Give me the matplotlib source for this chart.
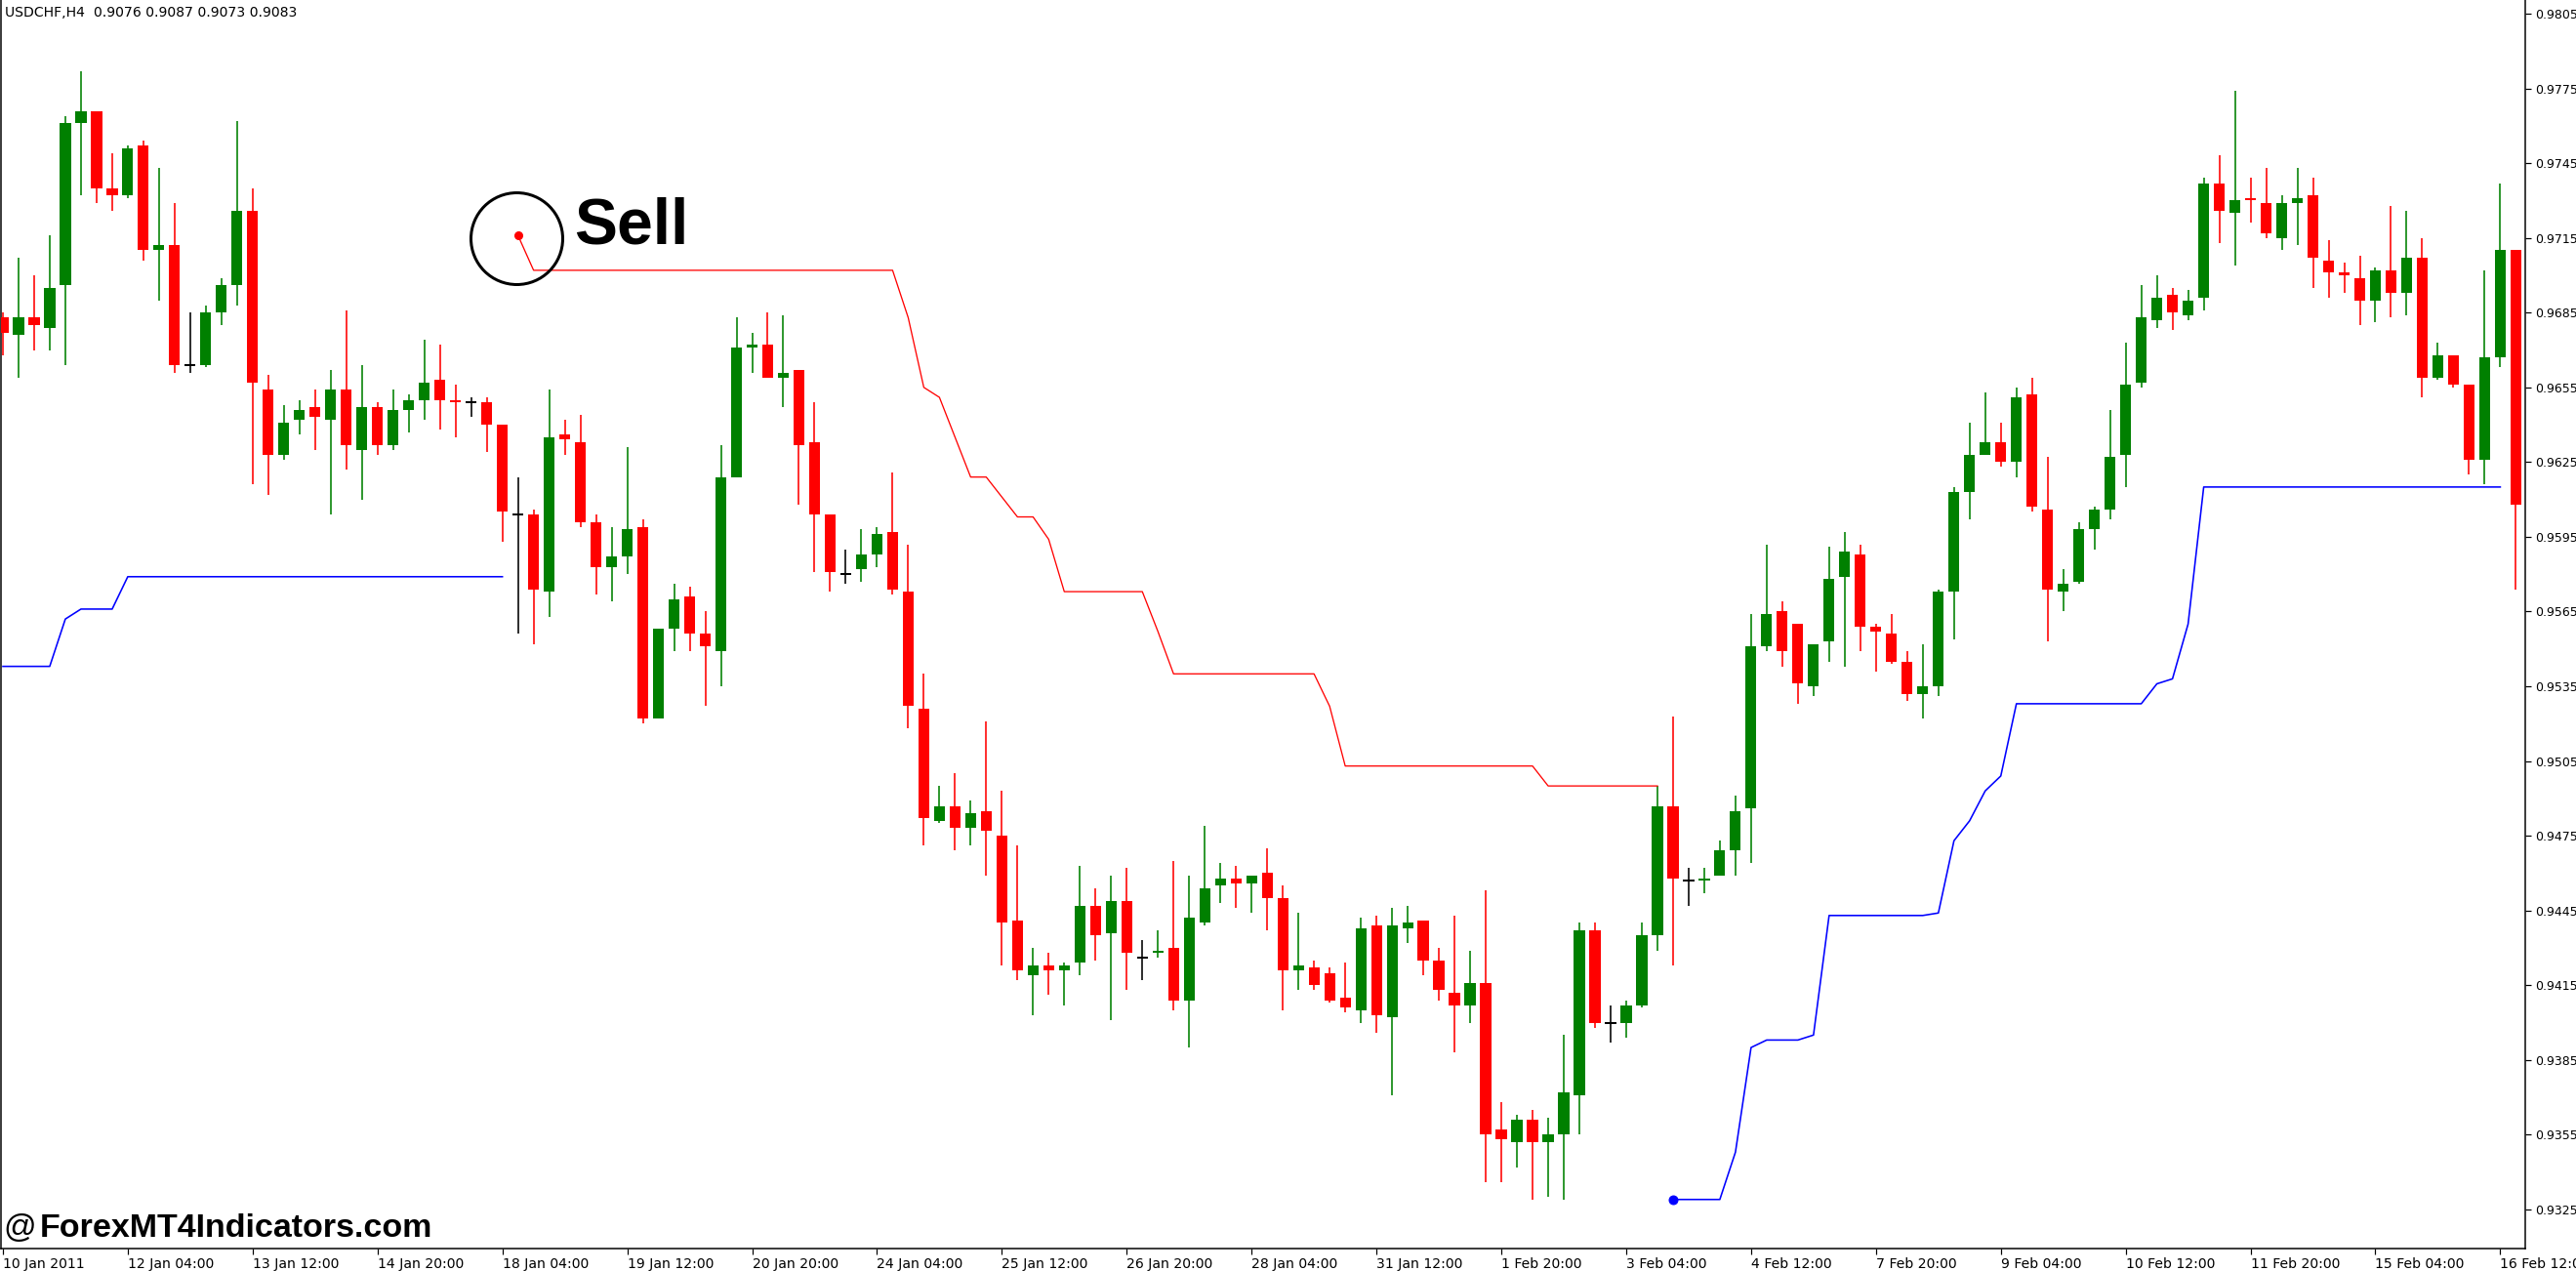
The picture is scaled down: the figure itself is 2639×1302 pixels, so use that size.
import numpy as np
import matplotlib
matplotlib.use("Agg")
import matplotlib.pyplot as plt
from matplotlib import font_manager

# USDCHF H4 candles, prices in 1e-4 units
opens = [9683, 9676, 9683, 9679, 9696, 9761, 9766, 9735, 9732, 9752,
         9710, 9712, 9664, 9664, 9685, 9696, 9726, 9654, 9628, 9642,
         9647, 9642, 9654, 9630, 9647, 9632, 9646, 9650, 9658, 9650,
         9649, 9649, 9640, 9604, 9604, 9573, 9636, 9633, 9601, 9583,
         9587, 9599, 9522, 9558, 9571, 9556, 9549, 9619, 9671, 9672,
         9659, 9662, 9633, 9604, 9580, 9582, 9588, 9597, 9573, 9526,
         9481, 9487, 9478, 9485, 9475, 9441, 9419, 9423, 9421, 9424,
         9447, 9436, 9449, 9426, 9428, 9430, 9409, 9440, 9455, 9458,
         9456, 9460, 9450, 9421, 9422, 9420, 9410, 9405, 9439, 9402,
         9438, 9441, 9425, 9412, 9407, 9416, 9357, 9352, 9361, 9352,
         9355, 9371, 9437, 9400, 9400, 9407, 9435, 9487, 9457, 9457,
         9459, 9469, 9486, 9551, 9565, 9560, 9535, 9553, 9579, 9588,
         9559, 9556, 9545, 9532, 9535, 9573, 9613, 9628, 9633, 9625,
         9652, 9606, 9573, 9577, 9598, 9606, 9628, 9657, 9682, 9692,
         9684, 9691, 9737, 9725, 9731, 9729, 9715, 9729, 9732, 9706,
         9701, 9699, 9690, 9702, 9693, 9707, 9659, 9668, 9656, 9626,
         9667, 9710]
highs = [9685, 9707, 9700, 9716, 9764, 9782, 9766, 9749, 9752, 9754,
         9743, 9729, 9685, 9688, 9699, 9762, 9735, 9660, 9648, 9650,
         9654, 9662, 9686, 9664, 9649, 9654, 9652, 9674, 9672, 9656,
         9651, 9651, 9640, 9619, 9606, 9654, 9642, 9644, 9604, 9599,
         9631, 9602, 9558, 9576, 9575, 9565, 9632, 9683, 9677, 9685,
         9684, 9662, 9649, 9604, 9590, 9598, 9599, 9621, 9592, 9540,
         9495, 9500, 9489, 9521, 9493, 9471, 9430, 9428, 9424, 9463,
         9454, 9459, 9462, 9433, 9437, 9465, 9459, 9479, 9464, 9463,
         9459, 9470, 9455, 9444, 9425, 9422, 9424, 9442, 9443, 9446,
         9447, 9441, 9430, 9443, 9429, 9453, 9368, 9363, 9365, 9362,
         9395, 9440, 9440, 9407, 9409, 9440, 9495, 9523, 9462, 9462,
         9473, 9491, 9564, 9592, 9569, 9560, 9552, 9591, 9597, 9592,
         9560, 9564, 9549, 9552, 9574, 9615, 9641, 9653, 9641, 9655,
         9659, 9627, 9582, 9601, 9607, 9646, 9673, 9696, 9700, 9695,
         9694, 9739, 9748, 9774, 9739, 9743, 9732, 9743, 9739, 9714,
         9705, 9708, 9703, 9728, 9726, 9715, 9673, 9668, 9656, 9702,
         9737, 9710]
lows = [9668, 9659, 9670, 9670, 9664, 9732, 9729, 9726, 9731, 9706,
        9690, 9661, 9661, 9663, 9680, 9688, 9616, 9612, 9626, 9636,
        9630, 9604, 9622, 9610, 9628, 9630, 9637, 9642, 9638, 9635,
        9643, 9629, 9593, 9556, 9552, 9563, 9628, 9599, 9572, 9569,
        9580, 9520, 9522, 9549, 9549, 9527, 9535, 9619, 9661, 9659,
        9647, 9608, 9581, 9573, 9576, 9577, 9583, 9572, 9518, 9471,
        9480, 9469, 9471, 9459, 9423, 9417, 9403, 9411, 9407, 9419,
        9425, 9401, 9413, 9417, 9426, 9405, 9390, 9439, 9448, 9446,
        9444, 9437, 9405, 9413, 9413, 9408, 9404, 9400, 9396, 9371,
        9432, 9419, 9409, 9388, 9400, 9336, 9336, 9342, 9329, 9330,
        9329, 9355, 9398, 9392, 9394, 9406, 9429, 9423, 9447, 9452,
        9459, 9459, 9464, 9549, 9543, 9528, 9531, 9545, 9543, 9549,
        9541, 9544, 9529, 9522, 9531, 9554, 9602, 9628, 9623, 9619,
        9605, 9553, 9565, 9576, 9590, 9602, 9615, 9655, 9679, 9678,
        9682, 9686, 9713, 9704, 9721, 9715, 9710, 9712, 9695, 9691,
        9693, 9680, 9681, 9683, 9684, 9651, 9658, 9655, 9620, 9616,
        9663, 9574]
closes = [9677, 9683, 9680, 9695, 9761, 9766, 9735, 9732, 9751, 9710,
          9712, 9664, 9664, 9685, 9696, 9726, 9657, 9628, 9641, 9646,
          9643, 9654, 9632, 9647, 9632, 9646, 9650, 9657, 9650, 9649,
          9649, 9640, 9605, 9604, 9574, 9635, 9634, 9601, 9583, 9587,
          9598, 9522, 9558, 9570, 9556, 9551, 9619, 9671, 9672, 9659,
          9661, 9632, 9604, 9581, 9580, 9588, 9596, 9574, 9527, 9482,
          9487, 9478, 9484, 9477, 9440, 9421, 9423, 9421, 9423, 9447,
          9435, 9449, 9428, 9426, 9429, 9409, 9442, 9454, 9458, 9456,
          9459, 9450, 9421, 9423, 9415, 9409, 9406, 9438, 9403, 9439,
          9440, 9425, 9413, 9407, 9416, 9355, 9353, 9361, 9352, 9355,
          9372, 9437, 9400, 9400, 9407, 9435, 9487, 9458, 9457, 9458,
          9469, 9485, 9551, 9564, 9549, 9536, 9552, 9578, 9589, 9559,
          9557, 9545, 9532, 9535, 9573, 9613, 9628, 9633, 9625, 9651,
          9607, 9574, 9576, 9598, 9606, 9627, 9656, 9683, 9691, 9685,
          9690, 9737, 9726, 9730, 9730, 9717, 9729, 9731, 9707, 9701,
          9700, 9690, 9702, 9693, 9707, 9659, 9668, 9656, 9626, 9667,
          9710, 9608]

# trailing stop lines of the indicator
buy_a_start = 0
buy_a = [9543] * 4 + [9562] + [9566] * 3 + [9579] * 25
sell_start = 33
sell = ([9716] + [9702] * 24 + [9683, 9655, 9651, 9635, 9619, 9619, 9611, 9603, 9603, 9594]
        + [9573] * 6 + [9557] + [9540] * 10 + [9527] + [9503] * 13 + [9495] * 8)
buy_b_start = 107
buy_b = ([9329] * 4 + [9348, 9390] + [9393] * 3 + [9395] + [9443] * 7 + [9444]
         + [9473, 9481, 9493, 9499] + [9528] * 9 + [9536, 9538, 9560] + [9615] * 20)

date_labels = ["10 Jan 2011", "12 Jan 04:00", "13 Jan 12:00", "14 Jan 20:00", "18 Jan 04:00",
               "19 Jan 12:00", "20 Jan 20:00", "24 Jan 04:00", "25 Jan 12:00", "26 Jan 20:00",
               "28 Jan 04:00", "31 Jan 12:00", "1 Feb 20:00", "3 Feb 04:00", "4 Feb 12:00",
               "7 Feb 20:00", "9 Feb 04:00", "10 Feb 12:00", "11 Feb 20:00", "15 Feb 04:00",
               "16 Feb 12:00"]
label_step = 8

o = np.array(opens) / 10000
h = np.array(highs) / 10000
l = np.array(lows) / 10000
c = np.array(closes) / 10000
x = np.arange(len(o))

GREEN = '#008000'
RED = '#ff0000'
cols = np.where(c > o, GREEN, np.where(c < o, RED, 'black'))

# pick a narrow font for the MT4-style labels
names = {f.name for f in font_manager.fontManager.ttflist}
if 'Liberation Sans Narrow' in names:
    small = dict(family='Liberation Sans Narrow', fontsize=17)
    big = dict(family='Liberation Sans Narrow', fontsize=17)
else:
    small = dict(family='DejaVu Sans', fontsize=12.5)
    big = dict(family='DejaVu Sans', fontsize=14)

fig = plt.figure(figsize=(2639 / 72, 1302 / 72), dpi=72)
ax = fig.add_axes([0.0004, 1 - 1279 / 1302, 2587 / 2639 - 0.0004, 1279 / 1302])

ax.vlines(x, l, h, colors=cols, linewidth=1.6, zorder=2)
body = np.abs(c - o)
ax.bar(x, body, 0.7, bottom=np.minimum(o, c), color=cols, linewidth=0, zorder=3)
doji = c == o
ax.hlines(c[doji], x[doji] - 0.35, x[doji] + 0.35, colors='black', linewidth=2, zorder=3)

ax.plot(np.arange(len(buy_a)) + buy_a_start, np.array(buy_a) / 10000, color='#0000ff', lw=1.6, zorder=4)
ax.plot(np.arange(len(buy_b)) + buy_b_start, np.array(buy_b) / 10000, color='#0000ff', lw=1.6, zorder=4)
ax.plot(buy_b_start, buy_b[0] / 10000, 'o', color='#0000ff', ms=9, zorder=5)
ax.plot(np.arange(len(sell)) + sell_start, np.array(sell) / 10000, color=RED, lw=1.3, zorder=4)
ax.plot(sell_start, sell[0] / 10000, 'o', color=RED, ms=8, zorder=5)

# "Sell" marker
ax.plot(32.9, 0.97148, 'o', ms=94, mfc='none', mec='black', mew=3, zorder=5)
ax.text(36.6, 0.97195, "Sell", fontsize=66, fontweight='bold', va='center', ha='left',
        family=['Liberation Sans', 'DejaVu Sans'], zorder=6)

ax.set_xlim(-0.12, 161.6)
ax.set_ylim(0.93093, 0.98105)

ax.yaxis.tick_right()
yt = np.arange(0.9325, 0.9806, 0.003)
ax.set_yticks(yt)
ax.set_yticklabels(["%.4f" % v for v in yt], **small)
ax.set_xticks(np.arange(len(date_labels)) * label_step)
ax.set_xticklabels(date_labels, ha='left', **big)
ax.tick_params(axis='both', direction='out', length=6, width=1.2, pad=3, colors='black')
ax.tick_params(axis='y', pad=4)
ax.spines['top'].set_visible(False)
for s in ['left', 'right', 'bottom']:
    ax.spines[s].set_linewidth(1.5)

ax.text(0.0015, 0.995, "USDCHF,H4  0.9076 0.9087 0.9073 0.9083", transform=ax.transAxes,
        va='top', ha='left', **big)
ax.text(0.001, 0.004, "@", transform=ax.transAxes, fontsize=33,
        family=['Liberation Sans'], va='bottom', ha='left')
ax.text(0.0155, 0.004, "ForexMT4Indicators.com", transform=ax.transAxes, fontsize=34,
        fontweight='bold', family=['Liberation Sans', 'DejaVu Sans'], va='bottom', ha='left')

fig.savefig("out.png", dpi=72)
